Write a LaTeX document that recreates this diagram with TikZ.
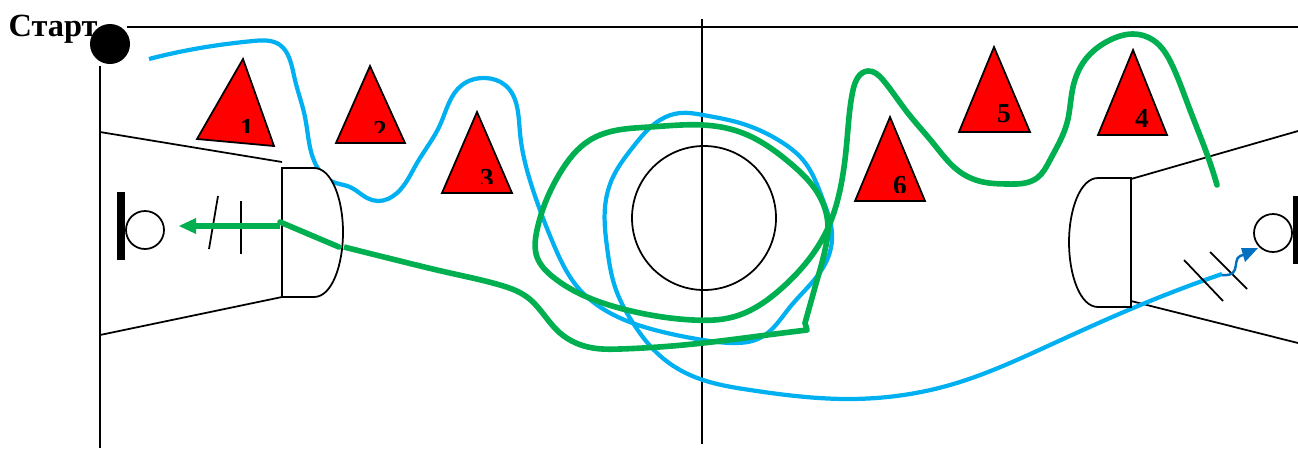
\documentclass[tikz,border=0pt]{standalone}
\usepackage{fontspec}
\usetikzlibrary{hobby}
\setmainfont{Liberation Serif}
\definecolor{routeblue}{HTML}{00B0F0}
\definecolor{routegreen}{HTML}{00B050}
\definecolor{shotblue}{HTML}{0070C0}
\definecolor{conered}{HTML}{FF0000}
\tikzset{
  rink/.style={draw=black,line width=0.5pt},
  cone/.style={draw=black,line width=0.5pt,fill=conered},
  conelabel/.style={font=\bfseries\fontsize{7.8}{10}\selectfont,inner sep=0pt},
  bluepath/.style={draw=routeblue,line width=1.2pt,use Hobby shortcut},
  greenpath/.style={draw=routegreen,line width=1.6pt}
}
\begin{document}
\begin{tikzpicture}[x=0.01cm,y=-0.01cm]
\useasboundingbox (0,0) rectangle (1298,448);

% rink lines
\draw[rink] (127,27)--(1298,27);
\draw[rink] (100,66)--(100,448);
\draw[rink] (702,19)--(702,444);
\draw[rink] (100,132)--(282,162);
\draw[rink] (100,335)--(282,297);
\draw[rink] (1131,179)--(1298,131);
\draw[rink] (1131,301)--(1298,343);
\draw[rink] (704,218) circle (72);

% blue skater
\draw[bluepath] (149,59) .. (200,48) .. (253,41) .. (280,45) .. (290,60) .. (295,80) .. (305,117) .. (315,163) .. (333,182) .. (350,187) .. (367,198) .. (378,201) .. (397,193) .. (417,163) .. (440,125) .. (462,85) .. (485,78) .. (505,85) .. (520,133) .. (533,190) .. (553,243) .. (580,290) .. (600,307) .. (667,333) .. (703,340) .. (733,343) .. (760,338) .. (790,307) .. (827,260) .. (832,233) .. (823,200) .. (803,160) .. (783,143) .. (740,123) .. (703,115) .. (680,113) .. (660,120) .. (633,147) .. (613,177) .. (605,207) .. (607,247) .. (615,287) .. (633,323) .. (657,353) .. (680,370) .. (703,380) .. (750,390) .. (850,399) .. (950,385) .. (1050,345) .. (1150,301) .. (1222,274);

% creases
\draw[rink,fill=white] (282,168)--(314,168) .. controls (332,168) and (343,200) .. (343,232) .. controls (343,265) and (332,297) .. (314,297)--(282,297)--cycle;
\draw[rink,fill=white] (1131,178)--(1098,178) .. controls (1080,178) and (1069,210) .. (1069,242) .. controls (1069,275) and (1080,307) .. (1098,307)--(1131,307)--cycle;

% goals
\draw[rink] (145,230) circle (19);
\draw[rink] (1273,233) circle (19);
\fill (117,192) rectangle (125,260);
\fill (1293,196) rectangle (1298,264);

% marks
\draw[rink] (218,196)--(209,249);
\draw[rink] (241,201)--(241,254);
\draw[rink] (1184,260)--(1223,301);
\draw[rink] (1210,252)--(1247,289);

% cones
\draw[cone] (243,59)--(274,146)--(197,139)--cycle;
\draw[cone] (370,66)--(405,143)--(336,143)--cycle;
\draw[cone] (477,112)--(512,193)--(442,193)--cycle;
\draw[cone] (1133,50)--(1167,135)--(1098,135)--cycle;
\draw[cone] (994,47)--(1030,132)--(959,132)--cycle;
\draw[cone] (890,117)--(925,201)--(855,201)--cycle;
\begin{scope}
\clip (200,100) rectangle (300,132);
\node[conelabel] (num1) at (247,128) {1};
\end{scope}
\begin{scope}
\clip (340,100) rectangle (420,132);
\node[conelabel] (num2) at (380,130) {2};
\end{scope}
\begin{scope}
\clip (450,150) rectangle (520,183);
\node[conelabel] (num3) at (487,179) {3};
\end{scope}
\node[conelabel] (num4) at (1142,118) {4};
\begin{scope}
\clip (970,90) rectangle (1030,122);
\node[conelabel] (num5) at (1004,114) {5};
\end{scope}
\begin{scope}
\clip (860,150) rectangle (930,192);
\node[conelabel] (num6) at (900,186) {6};
\end{scope}

% green skater
\draw[greenpath,line cap=round] (280,222)--(339,247);
\draw[greenpath,use Hobby shortcut] (344,247) .. (400,261) .. (450,273) .. (500,285) .. (527,297) .. (560,333) .. (593,348) .. (620,349) .. (703,343) .. (767,335) .. (807,330);
\draw[greenpath,line cap=round] (807,330)--(805,323)--(817,280);
\draw[greenpath,use Hobby shortcut,line cap=round] (817,280) .. (825,250) .. (828,230) .. (820,197) .. (790,163) .. (740,132) .. (703,125) .. (650,127) .. (613,131) .. (590,140) .. (560,173) .. (537,230) .. (537,257) .. (553,277) .. (627,310) .. (693,320) .. (733,317) .. (783,287) .. (827,230) .. (840,190) .. (847,140) .. (853,90) .. (868,71) .. (883,80) .. (907,112) .. (933,143) .. (960,172) .. (983,182) .. (1007,184) .. (1037,178) .. (1050,160) .. (1067,123) .. (1073,87) .. (1085,60) .. (1110,40) .. (1133,34) .. (1153,40) .. (1173,67) .. (1190,110) .. (1208,157) .. (1217,185);
\fill[routegreen] (196,218)--(179,226)--(196,234)--cycle;
\draw[greenpath] (280,226)--(192,226);

% shot
\draw[draw=shotblue,line width=0.7pt] (1222,275) .. controls (1245,277) and (1228,255) .. (1245,255);
\fill[shotblue] (1241,248)--(1258,248)--(1245,262)--cycle;

% start
\fill (110,44) circle (20);
\node[font=\bfseries\fontsize{9.2}{11}\selectfont,inner sep=0pt,anchor=west] (start) at (8,29) {Старт};
\end{tikzpicture}
\end{document}
